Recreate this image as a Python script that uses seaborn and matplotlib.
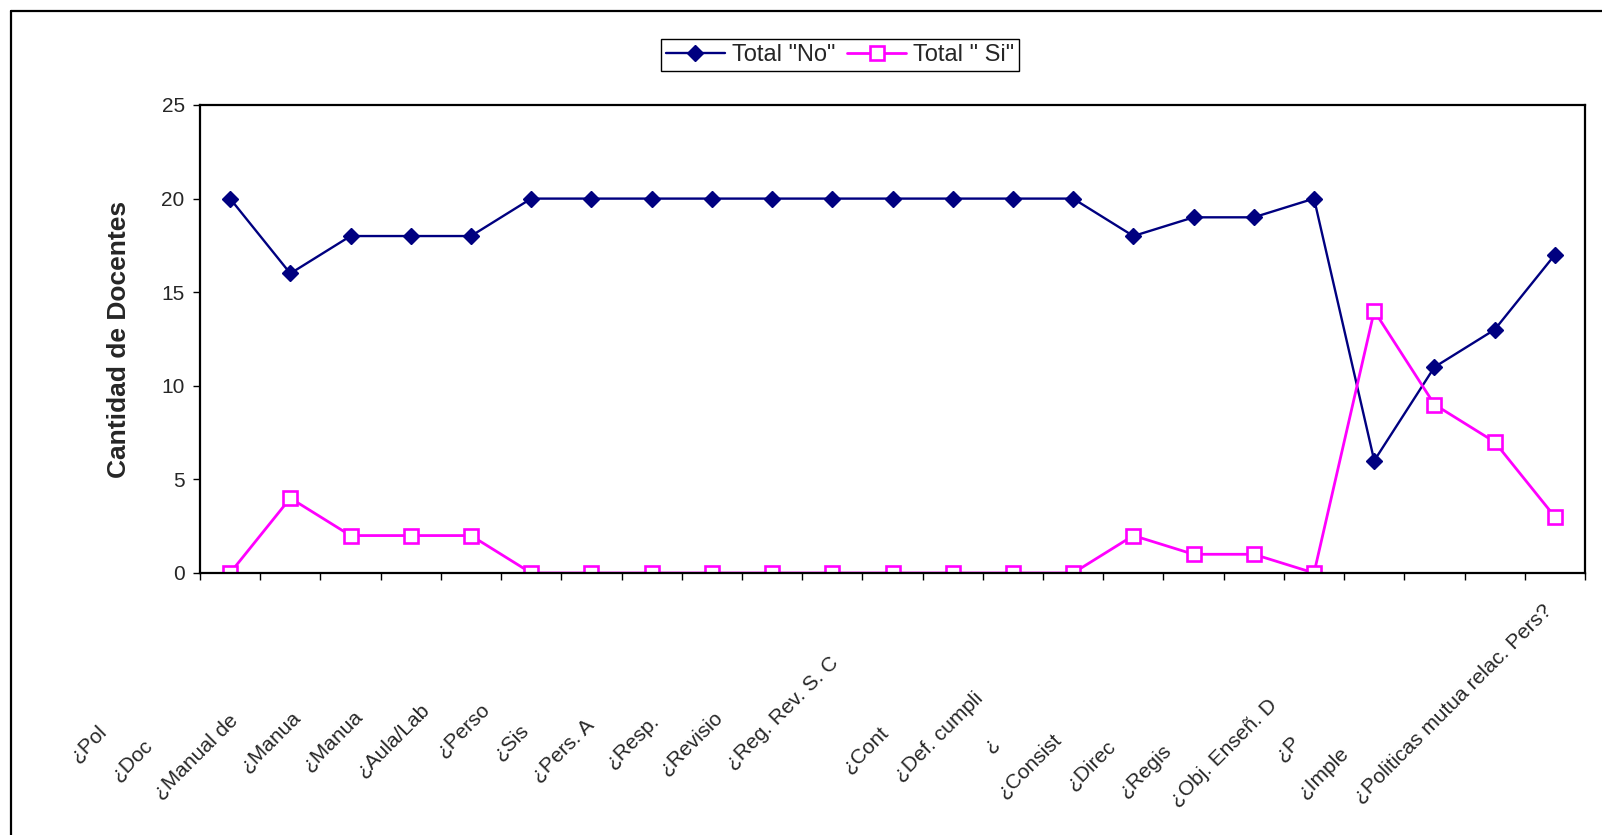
import numpy as np
import pandas as pd
import matplotlib
matplotlib.use("Agg")
import matplotlib.pyplot as plt
import seaborn as sns
from matplotlib.transforms import ScaledTranslation
from matplotlib.lines import Line2D

# ---- data -------------------------------------------------------------
preguntas = ["¿Pol", "¿Doc", "¿Manual de", "¿Manua", "¿Manua", "¿Aula/Lab",
             "¿Perso", "¿Sis", "¿Pers. A", "¿Resp.", "¿Revisio",
             "¿Reg. Rev. S. C", "", "¿Cont", "¿Def. cumpli", "¿",
             "¿Consist", "¿Direc", "¿Regis", "¿Obj. Enseñ. D", "¿P",
             "¿Imple", "¿Politicas mutua relac. Pers?"]
total_no = [20, 16, 18, 18, 18, 20, 20, 20, 20, 20, 20, 20, 20, 20, 20,
            18, 19, 19, 20, 6, 11, 13, 17]
total_si = [0, 4, 2, 2, 2, 0, 0, 0, 0, 0, 0, 0, 0, 0, 0,
            2, 1, 1, 0, 14, 9, 7, 3]
serie_no = 'Total "No"'
serie_si = 'Total " Si"'
y_ticks = [0, 5, 10, 15, 20, 25]

# per-label downward-left shift of the (partially hidden) category labels, px
label_shift_px = [121, 135, 110, 107, 106, 99, 99, 120, 115, 110, 107, 52, 0,
                  122, 88, 132, 129, 136, 140, 95, 132, 143, 0]
label_dx_px = -12

# ---- style ------------------------------------------------------------
sns.set_style("white")
plt.rcParams["font.family"] = ["Liberation Sans", "DejaVu Sans"]

W, H = 1602, 835
fig = plt.figure(figsize=(W / 100, H / 100), dpi=100)
ax = fig.add_axes([200 / W, 1 - 573 / H, 1385 / W, 468 / H])

pos = np.arange(len(preguntas))
df = pd.DataFrame({"pos": pos, "no": total_no, "si": total_si})

navy = "#000080"
magenta = "#FF00FF"
sns.lineplot(data=df, x="pos", y="no", ax=ax, color=navy, lw=1.7,
             marker="D", markersize=8.5, markeredgecolor=navy,
             markerfacecolor=navy, markeredgewidth=1, label=serie_no)
sns.lineplot(data=df, x="pos", y="si", ax=ax, color=magenta, lw=2.0,
             marker="s", markersize=10, markeredgecolor=magenta,
             markerfacecolor="white", markeredgewidth=1.9, label=serie_si)

ax.set_xlim(-0.5, len(pos) - 0.5)
ax.set_ylim(0, 25)
ax.set_yticks(y_ticks)
ax.set_xlabel("")
ax.set_ylabel("Cantidad de Docentes", fontsize=19, fontweight="bold",
              labelpad=22)

# category boundaries as major ticks, labels on minor ticks at centres
ax.set_xticks(np.arange(-0.5, len(pos)), labels=[])
ax.set_xticks(pos, labels=preguntas, minor=True)
ax.tick_params(axis="x", which="major", bottom=True, length=5, width=1,
               direction="out", color="black")
ax.tick_params(axis="x", which="minor", bottom=True, length=0, pad=20,
               labelsize=15, labelrotation=45)
ax.tick_params(axis="y", left=True, length=5, width=1, direction="out",
               color="black", labelsize=15, pad=6)

for sp in ax.spines.values():
    sp.set_visible(True)
    sp.set_color("black")
    sp.set_linewidth(1.6)

for lab, s in zip(ax.get_xticklabels(minor=True), label_shift_px):
    lab.set_ha("right")
    lab.set_va("top")
    lab.set_rotation_mode("anchor")
    lab.set_transform(lab.get_transform() +
                      ScaledTranslation((label_dx_px - s) / 100, -s / 100,
                                        fig.dpi_scale_trans))

# legend
handles, labels = ax.get_legend_handles_labels()
if ax.get_legend() is not None:
    ax.get_legend().remove()
leg = fig.legend(handles, labels, loc="center",
                 bbox_to_anchor=(840 / W, 1 - 55 / H), ncol=2, frameon=True,
                 fancybox=False, edgecolor="black", framealpha=1,
                 fontsize=17, handlelength=2.5, columnspacing=0.5,
                 handletextpad=0.3, borderpad=0.22, borderaxespad=0)
leg.get_frame().set_linewidth(1)

# outer chart frame (left and top edges visible)
fig.add_artist(Line2D([11 / W, 11 / W], [0, 1 - 11 / H],
                      transform=fig.transFigure, color="black", lw=1.6))
fig.add_artist(Line2D([11 / W, 1], [1 - 11 / H, 1 - 11 / H],
                      transform=fig.transFigure, color="black", lw=1.6))

fig.savefig("out.png", dpi=100)
